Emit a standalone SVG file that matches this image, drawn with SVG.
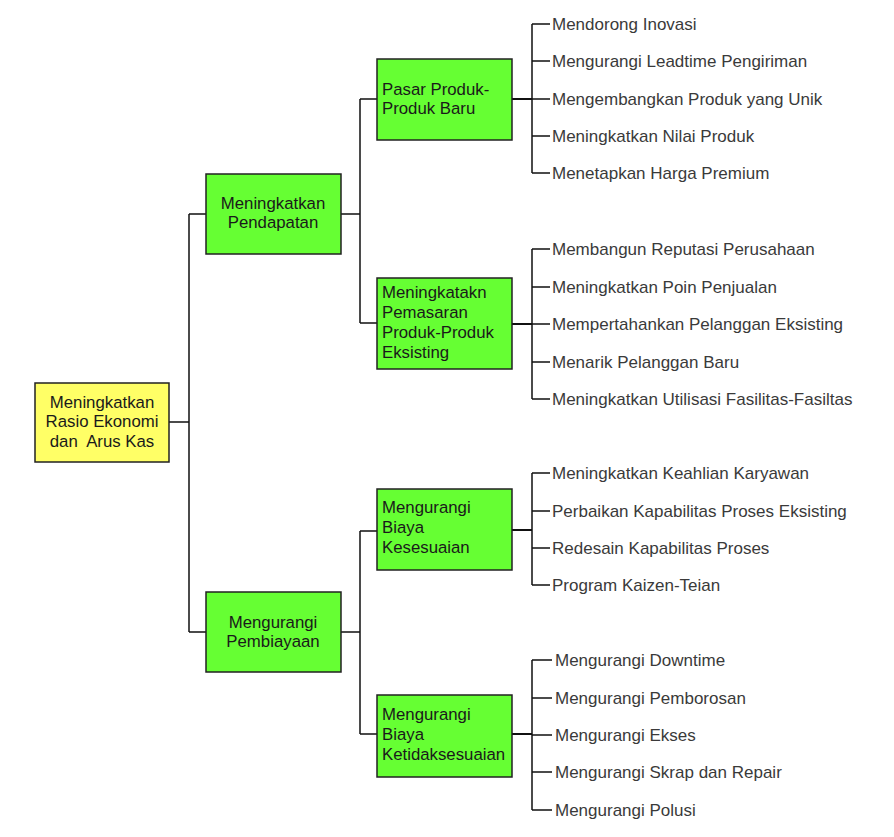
<svg xmlns="http://www.w3.org/2000/svg" width="894" height="837" viewBox="0 0 894 837">
<style>
.box{stroke:#222;stroke-width:1.5}
.root{fill:#ffff66}
.g{fill:#66ff33}
.t{font-family:"Liberation Sans",Arial,sans-serif;font-size:16.8px;fill:#1a1a1a}
.c{text-anchor:middle}
.leaf{font-family:"Liberation Sans",Arial,sans-serif;font-size:17px;fill:#3a3a3a}
.ln{stroke:#111;stroke-width:1.5;fill:none}
.st{stroke:#111;stroke-width:2;fill:none}
</style>
<rect width="894" height="837" fill="#ffffff"/>
<g id="connectors">
<path class="ln" d="M169 422H189M189 214V632M189 214H206M189 632H206"/>
<path class="ln" d="M341 214H360M360 99V323M360 99H377M360 323H377"/>
<path class="ln" d="M341 632H360M360 531V734M360 531H377M360 734H377"/>
<path class="st" d="M512 99H532M512 324H532M512 530H532M512 734H532"/>
<path class="ln" d="M532 24V173M532 24H550M532 61H550M532 99H550M532 136H550M532 173H550"/>
<path class="ln" d="M532 249V399M532 249H550M532 287H550M532 324H550M532 362H550M532 399H550"/>
<path class="ln" d="M532 473V585M532 473H550M532 511H550M532 548H550M532 585H550"/>
<path class="ln" d="M532 660V810M532 660H552M532 698H552M532 735H552M532 772H552M532 810H552"/>
</g>
<g id="root">
<rect class="box root" x="35" y="383" width="134" height="79"/>
<text class="t c" x="102" y="408">Meningkatkan</text>
<text class="t c" x="102" y="427">Rasio Ekonomi</text>
<text class="t c" x="102" y="447" xml:space="preserve">dan  Arus Kas</text>
</g>
<g id="pendapatan">
<rect class="box g" x="206" y="174" width="135" height="80"/>
<text class="t c" x="273" y="209">Meningkatkan</text>
<text class="t c" x="273" y="228">Pendapatan</text>
</g>
<g id="pembiayaan">
<rect class="box g" x="206" y="592" width="135" height="80"/>
<text class="t c" x="273" y="628">Mengurangi</text>
<text class="t c" x="273" y="647">Pembiayaan</text>
</g>
<g id="pasar-baru">
<rect class="box g" x="377" y="59" width="135" height="81"/>
<text class="t" x="382" y="95">Pasar Produk-</text>
<text class="t" x="382" y="114">Produk Baru</text>
</g>
<g id="pemasaran">
<rect class="box g" x="377" y="278" width="135" height="91"/>
<text class="t" x="382" y="298">Meningkatakn</text>
<text class="t" x="382" y="318">Pemasaran</text>
<text class="t" x="382" y="338">Produk-Produk</text>
<text class="t" x="382" y="358">Eksisting</text>
</g>
<g id="kesesuaian">
<rect class="box g" x="377" y="489" width="135" height="81"/>
<text class="t" x="382" y="513">Mengurangi</text>
<text class="t" x="382" y="533">Biaya</text>
<text class="t" x="382" y="553">Kesesuaian</text>
</g>
<g id="ketidaksesuaian">
<rect class="box g" x="377" y="695" width="135" height="82"/>
<text class="t" x="382" y="720">Mengurangi</text>
<text class="t" x="382" y="740">Biaya</text>
<text class="t" x="382" y="760">Ketidaksesuaian</text>
</g>
<g id="leaves-a">
<text class="leaf" x="552" y="30">Mendorong Inovasi</text>
<text class="leaf" x="552" y="67">Mengurangi Leadtime Pengiriman</text>
<text class="leaf" x="552" y="105">Mengembangkan Produk yang Unik</text>
<text class="leaf" x="552" y="142">Meningkatkan Nilai Produk</text>
<text class="leaf" x="552" y="179">Menetapkan Harga Premium</text>
</g>
<g id="leaves-b">
<text class="leaf" x="552" y="255">Membangun Reputasi Perusahaan</text>
<text class="leaf" x="552" y="293">Meningkatkan Poin Penjualan</text>
<text class="leaf" x="552" y="330">Mempertahankan Pelanggan Eksisting</text>
<text class="leaf" x="552" y="368">Menarik Pelanggan Baru</text>
<text class="leaf" x="552" y="405">Meningkatkan Utilisasi Fasilitas-Fasiltas</text>
</g>
<g id="leaves-c">
<text class="leaf" x="552" y="479">Meningkatkan Keahlian Karyawan</text>
<text class="leaf" x="552" y="517">Perbaikan Kapabilitas Proses Eksisting</text>
<text class="leaf" x="552" y="554">Redesain Kapabilitas Proses</text>
<text class="leaf" x="552" y="591">Program Kaizen-Teian</text>
</g>
<g id="leaves-d">
<text class="leaf" x="555" y="666">Mengurangi Downtime</text>
<text class="leaf" x="555" y="704">Mengurangi Pemborosan</text>
<text class="leaf" x="555" y="741">Mengurangi Ekses</text>
<text class="leaf" x="555" y="778">Mengurangi Skrap dan Repair</text>
<text class="leaf" x="555" y="816">Mengurangi Polusi</text>
</g>
</svg>
